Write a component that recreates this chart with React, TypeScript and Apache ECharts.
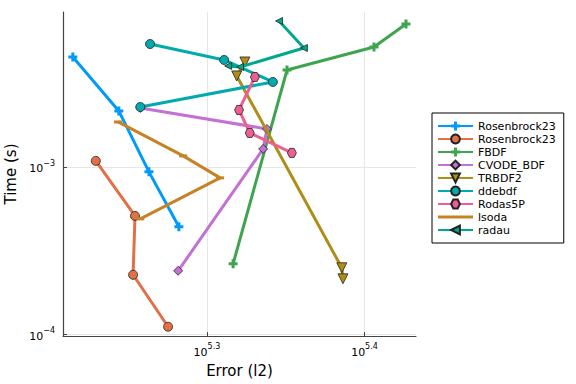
import React, { useEffect, useRef } from 'react';
import * as echarts from 'echarts';

// ---- data (Error in l2, Time in s) ----
const methodIds = ['Rosenbrock23', 'Rosenbrock23#2', 'FBDF', 'CVODE_BDF', 'TRBDF2', 'ddebdf', 'Rodas5P', 'lsoda', 'radau'];
const methodLabels = ['Rosenbrock23', 'Rosenbrock23', 'FBDF', 'CVODE_BDF', 'TRBDF2', 'ddebdf', 'Rodas5P', 'lsoda', 'radau'];

const rosenbrock23aError = [164000, 175400, 183300, 191500];
const rosenbrock23aTime = [0.004533, 0.002158, 0.0009337, 0.0004385];
const rosenbrock23bError = [169600, 179600, 179100, 188500];
const rosenbrock23bTime = [0.001086, 0.0005098, 0.0002268, 0.000111];
const fbdfError = [207300, 224300, 254700, 266900];
const fbdfTime = [0.0002638, 0.003791, 0.0052, 0.007133];
const cvodeError = [181000, 217800, 216600, 191300];
const cvodeTime = [0.002249, 0.001685, 0.00128, 0.0002396];
const trbdf2Error = [210900, 208400, 243000, 243400];
const trbdf2Time = [0.004232, 0.003491, 0.0002497, 0.0002146];
const ddebdfError = [183600, 204600, 219700, 181000];
const ddebdfTime = [0.005418, 0.00435, 0.003215, 0.00228];
const rodasError = [214000, 209100, 212400, 225900];
const rodasTime = [0.003443, 0.002188, 0.001595, 0.001212];
const lsodaError = [175200, 192700, 203400, 181000];
const lsodaTime = [0.001855, 0.001163, 0.00086, 0.0004893];
const radauError = [221700, 229900, 209400, 205800];
const radauTime = [0.007433, 0.005129, 0.003951, 0.004005];

const xTickExponents = [5.3, 5.4];
const yTickExponents = [-4, -3];

const colors = ['#009AFA', '#E36F47', '#3EA44E', '#C371D2', '#AC8E18', '#00AAAE', '#ED5E93', '#C68225', '#00A98D'];

const FONT = 'DejaVu Sans';
const CROSS = 'path://M3,0H6V3H9V6H6V9H3V6H0V3H3Z';
const HEX = 'path://M0,4.33L2.5,0L7.5,0L10,4.33L7.5,8.66L2.5,8.66Z';

const toLog = (xs: number[], ys: number[]) => xs.map((x, i) => [Math.log10(x), Math.log10(ys[i])]);

const seriesData = [
  toLog(rosenbrock23aError, rosenbrock23aTime),
  toLog(rosenbrock23bError, rosenbrock23bTime),
  toLog(fbdfError, fbdfTime),
  toLog(cvodeError, cvodeTime),
  toLog(trbdf2Error, trbdf2Time),
  toLog(ddebdfError, ddebdfTime),
  toLog(rodasError, rodasTime),
  toLog(lsodaError, lsodaTime),
  toLog(radauError, radauTime),
];

const markerSpecs: any[] = [
  { symbol: CROSS, size: 9, rotate: 0, border: 0 },
  { symbol: 'circle', size: 9, rotate: 0, border: 0.8 },
  { symbol: CROSS, size: 9, rotate: 0, border: 0 },
  { symbol: 'diamond', size: 9, rotate: 0, border: 0.8 },
  { symbol: 'triangle', size: 10, rotate: 180, border: 0.8 },
  { symbol: 'circle', size: 9, rotate: 0, border: 0.8 },
  { symbol: HEX, size: 9, rotate: 0, border: 0.8 },
  { symbol: 'rect', size: [8, 3], rotate: 0, border: 0 },
  { symbol: 'triangle', size: 7, rotate: 90, border: 0.8 },
];

const richLabel = {
  b: { fontSize: 11, lineHeight: 15, verticalAlign: 'bottom', color: '#000', fontFamily: FONT },
  s: { fontSize: 8, lineHeight: 8, verticalAlign: 'top', color: '#000', fontFamily: FONT },
};

export default function App() {
  const ref = useRef<HTMLDivElement>(null);
  useEffect(() => {
    const chart = echarts.init(ref.current!, null, { renderer: 'svg' });
    const option: any = {
      animation: false,
      backgroundColor: '#fff',
      grid: { left: 63, top: 12, right: 160, bottom: 48, containLabel: false, outerBoundsMode: 'none' },
      xAxis: {
        type: 'value',
        min: 5.2086,
        max: 5.4327,
        name: 'Error (l2)',
        nameLocation: 'middle',
        nameGap: 27,
        nameTextStyle: { fontSize: 15, color: '#000', fontFamily: FONT },
        axisLine: { onZero: false, lineStyle: { color: '#444', width: 1.2 } },
        axisTick: { customValues: xTickExponents, inside: true, length: 4, lineStyle: { color: '#444' } },
        axisLabel: {
          customValues: xTickExponents,
          margin: 6.5,
          formatter: (v: number) => `{b|10}{s|${v.toFixed(1)}}`,
          rich: richLabel,
        },
        splitLine: { show: true, lineStyle: { color: '#e6e6e6', width: 1 } },
      },
      yAxis: {
        type: 'value',
        min: -4.01,
        max: -2.075,
        name: 'Time (s)',
        nameLocation: 'middle',
        nameGap: 43,
        nameTextStyle: { fontSize: 15, color: '#000', fontFamily: FONT },
        axisLine: { onZero: false, lineStyle: { color: '#444', width: 1.2 } },
        axisTick: { customValues: yTickExponents, inside: true, length: 4, lineStyle: { color: '#444' } },
        axisLabel: {
          customValues: yTickExponents,
          margin: 8,
          formatter: (v: number) => `{b|10}{s|\u2212${Math.abs(Math.round(v))}}`,
          rich: richLabel,
        },
        splitLine: { show: true, lineStyle: { color: '#e6e6e6', width: 1 } },
      },
      legend: {
        orient: 'vertical',
        left: 432,
        top: 113,
        padding: [7.5, 8, 7.5, 5],
        itemWidth: 35,
        itemHeight: 11,
        itemGap: 2,
        borderColor: '#000',
        borderWidth: 1,
        borderRadius: 0,
        selectedMode: false,
        textStyle: { fontSize: 11, color: '#000', fontFamily: FONT },
        formatter: (name: string) => methodLabels[methodIds.indexOf(name)],
        data: methodIds.map((id, i) =>
          i === 7 ? { name: id, icon: 'path://M0,0H35V3H0Z' } : { name: id }
        ),
      },
      series: methodIds.map((id, i) => ({
        name: id,
        type: 'line',
        data: seriesData[i],
        color: colors[i],
        symbol: markerSpecs[i].symbol,
        symbolSize: markerSpecs[i].size,
        symbolRotate: markerSpecs[i].rotate,
        showSymbol: true,
        lineStyle: { width: 3, color: colors[i] },
        itemStyle: {
          color: colors[i],
          borderColor: markerSpecs[i].border ? '#222' : colors[i],
          borderWidth: markerSpecs[i].border,
        },
        emphasis: { disabled: true },
        z: 2 + i,
      })),
    };
    chart.setOption(option);
    return () => chart.dispose();
  }, []);
  return <div ref={ref} style={{ position: 'fixed', left: 0, top: 0, width: 576, height: 384 }} />;
}
